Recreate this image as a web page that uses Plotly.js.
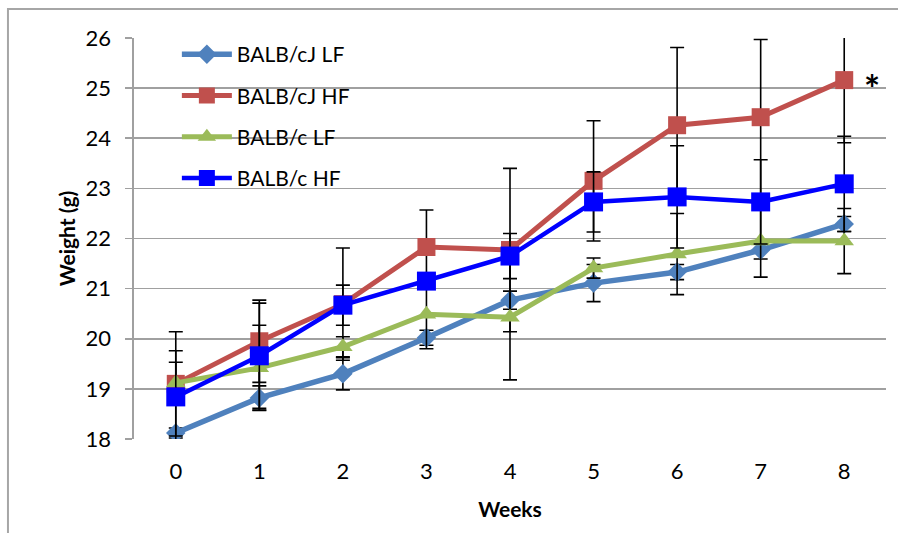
<!DOCTYPE html>
<html>
<head>
<meta charset="utf-8">
<script src="https://cdn.plot.ly/plotly-3.0.1.min.js"></script>
<style>html,body{margin:0;padding:0;background:#fff;}#chart{width:898px;height:533px;}</style>
</head>
<body>
<div id="chart"></div>
<script>
const weeks = [0, 1, 2, 3, 4, 5, 6, 7, 8];
const xTickLabels = ['0', '1', '2', '3', '4', '5', '6', '7', '8'];
const yTickVals = [18, 19, 20, 21, 22, 23, 24, 25, 26];

const cjLF    = [18.12, 18.82, 19.30, 20.02, 20.77, 21.11, 21.33, 21.77, 22.29];
const cjLF_sd = [0.10, 0.24, 0.32, 0.15, 0.18, 0.37, 0.15, 0.18, 0.15];

const cjHF    = [19.10, 19.95, 20.69, 21.83, 21.77, 23.15, 24.26, 24.42, 25.16];
const cjHF_sd = [1.04, 0.82, 1.12, 0.74, 1.63, 1.20, 1.55, 1.55, 1.25];

const cLF     = [19.12, 19.42, 19.84, 20.49, 20.43, 21.41, 21.69, 21.95, 21.95];
const cLF_sd  = [0.41, 0.85, 0.20, 0.69, 1.25, 0.20, 0.81, 0.72, 0.65];

const cHF     = [18.84, 19.66, 20.67, 21.15, 21.65, 22.73, 22.83, 22.73, 23.09];
const cHF_sd  = [0.92, 1.05, 0.40, 0.15, 0.45, 0.60, 1.02, 0.84, 0.95];

const seriesNames = ['BALB/cJ LF', 'BALB/cJ HF', 'BALB/c LF', 'BALB/c HF'];

const FONT = 'Lato, "Open Sans", "DejaVu Sans", sans-serif';

function mk(name, y, sd, color, symbol, size, lw, group) {
  return {
    type: 'scatter', mode: 'lines+markers', name: name, x: weeks, y: y,
    legendgroup: group,
    line: {color: color, width: lw},
    marker: {color: color, symbol: symbol, size: size},
    error_y: {type: 'data', array: sd, visible: true, color: '#000', thickness: 1.6, width: 7},
    hoverinfo: 'x+y'
  };
}

const data = [
  mk(seriesNames[0], cjLF, cjLF_sd, '#4F81BD', 'diamond', 15, 5.5, 'g1'),
  mk(seriesNames[1], cjHF, cjHF_sd, '#C0504D', 'square', 18, 5, 'g2'),
  mk(seriesNames[2], cLF, cLF_sd, '#9BBB59', 'triangle-up', 17, 5, 'g3'),
  mk(seriesNames[3], cHF, cHF_sd, '#0000FF', 'square', 19, 4.5, 'g4')
];

const layout = {
  width: 898, height: 533,
  margin: {l: 134, r: 12, t: 38, b: 94, pad: 0},
  paper_bgcolor: '#fff', plot_bgcolor: '#fff',
  font: {family: FONT, color: '#000', size: 21},
  showlegend: true,
  legend: {
    x: 0.057, y: 1.01, xanchor: 'left', yanchor: 'top',
    bgcolor: 'rgba(0,0,0,0)', borderwidth: 0,
    font: {family: FONT, size: 21, color: '#000'},
    traceorder: 'grouped', tracegroupgap: 11, itemwidth: 50
  },
  xaxis: {
    range: [-0.5, 8.5], tickvals: weeks, ticktext: xTickLabels,
    showgrid: false, zeroline: false, showline: false, ticks: '',
    tickfont: {family: FONT, size: 22, color: '#000'},
    ticklabelstandoff: 17,
    title: {text: '<b>Weeks</b>', font: {family: FONT, size: 21, color: '#000'}, standoff: 19},
    fixedrange: true
  },
  yaxis: {
    range: [18, 26], tickvals: yTickVals,
    showgrid: true, gridcolor: '#A0A0A0', gridwidth: 1.6,
    zeroline: false, showline: true, linecolor: '#A0A0A0', linewidth: 1.6,
    ticks: 'outside', ticklen: 7, tickcolor: '#A0A0A0', tickwidth: 1.6,
    tickfont: {family: FONT, size: 22, color: '#000'},
    ticklabelstandoff: 10,
    title: {text: '<b>Weight (g)</b>', font: {family: FONT, size: 21, color: '#000'}, standoff: 4},
    fixedrange: true
  },
  shapes: [{
    type: 'rect', xref: 'paper', yref: 'paper',
    x0: -0.1676, x1: 1.05, y0: -0.4, y1: 1.0723,
    line: {color: '#A6A6A6', width: 2}, fillcolor: 'rgba(0,0,0,0)', layer: 'below'
  }],
  annotations: [{
    x: 8.33, y: 25.16, xref: 'x', yref: 'y', text: '<b>*</b>', showarrow: false,
    font: {family: FONT, size: 38, color: '#000'}, xanchor: 'center', yanchor: 'middle', yshift: -8
  }]
};

Plotly.newPlot('chart', data, layout, {displayModeBar: false, staticPlot: true});
</script>
</body>
</html>
